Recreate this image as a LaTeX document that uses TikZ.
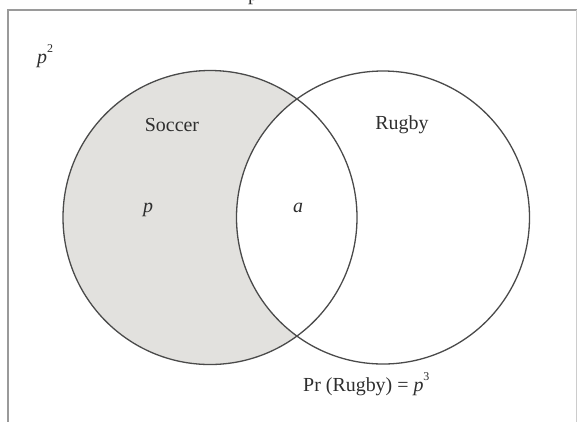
\documentclass[tikz,border=0pt]{standalone}
\usepackage{fontspec}
\setmainfont{Liberation Serif}
\definecolor{lightfill}{HTML}{E2E1DE}
\definecolor{ink}{HTML}{4A4A4A}
\definecolor{txt}{HTML}{2E2E2E}
\definecolor{framegray}{HTML}{9A9A9A}
\begin{document}
\begin{tikzpicture}[x=1bp,y=-1bp,
  setc/.style={circle,draw=ink,line width=1.3bp,inner sep=0pt,outer sep=0pt},
  lbl/.style={text=txt,inner sep=0pt,font=\fontsize{20}{24}\selectfont}]
\useasboundingbox (0,0) rectangle (577,421);
% frame (cut off at right and bottom)
\draw[draw=framegray,line width=2bp] (8,425) -- (8,10) -- (581,10);
\draw[draw=framegray!50,line width=1bp] (576,10) -- (576,425);
% shading of Soccer only
\fill[fill=lightfill] (210,217.5) circle (147bp);
\begin{scope}
  \clip (383,217.5) circle (146.5bp);
  \fill[fill=white] (210,217.5) circle (147bp);
\end{scope}
% circles
\node[setc,minimum size=294bp] (soccer) at (210,217.5) {};
\node[setc,minimum size=293bp] (rugby) at (383,217.5) {};
% labels
\begin{scope}
  \clip (0,0) rectangle (577,421);
  \node[lbl,anchor=base] (top) at (253,0.8) {p};
\end{scope}
\node[lbl,anchor=base west] (p2) at (37,63) {\textit{p}\raisebox{0.55em}{\fontsize{12}{14}\selectfont 2}};
\node[lbl] (soccerlbl) at (172,125) {Soccer};
\node[lbl] (rugbylbl) at (402,125) {Rugby};
\node[lbl,anchor=base] (plbl) at (148,212) {\textit{p}};
\node[lbl,anchor=base] (albl) at (298,212) {\textit{a}};
\node[lbl,anchor=base west] (prlbl) at (303,391) {Pr (Rugby) = \textit{p}\raisebox{0.55em}{\fontsize{12}{14}\selectfont 3}};
\end{tikzpicture}
\end{document}
